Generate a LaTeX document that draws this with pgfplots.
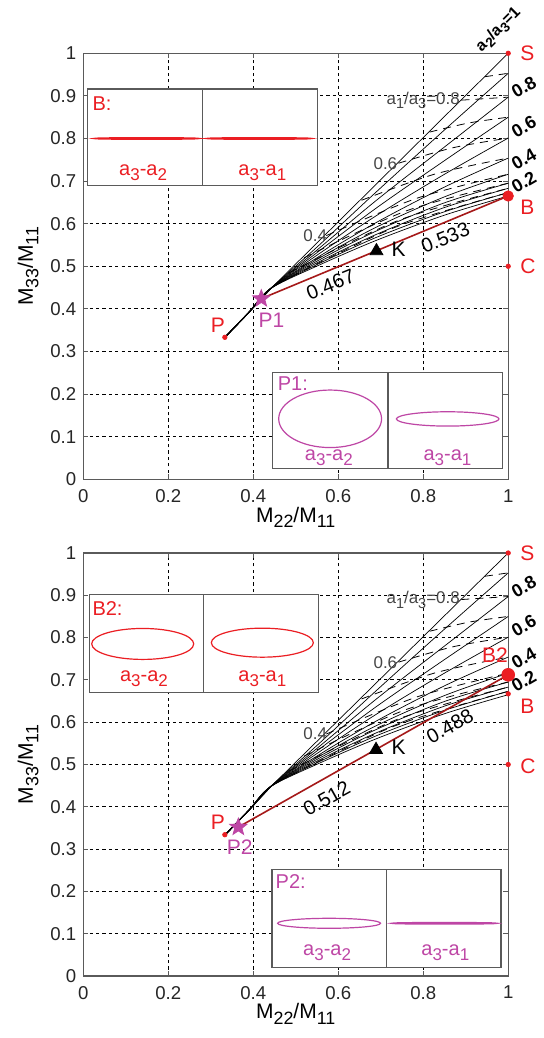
\documentclass[border=0pt]{standalone}
\usepackage{graphicx}
\usepackage{fontspec}
\setmainfont{Liberation Sans}
\usepackage{pgfplots}
\pgfplotsset{compat=1.18}

\definecolor{mred}{RGB}{235,30,35}
\definecolor{lred}{RGB}{165,25,25}
\definecolor{mag}{RGB}{190,70,165}
\definecolor{axgray}{RGB}{90,90,90}
\definecolor{lblgray}{RGB}{70,70,70}

% large, low subscripts as in the original figure
\newcommand\sub[1]{\raisebox{-0.5ex}{\scalebox{0.85}{#1}}}
\newcommand\fs[1]{\fontsize{#1}{#1}\selectfont}

% filled five-point star
\pgfdeclareplotmark{fstar}{%
  \pgfpathmoveto{\pgfpointpolar{90}{\pgfplotmarksize}}%
  \pgfpathlineto{\pgfpointpolar{126}{0.42\pgfplotmarksize}}%
  \pgfpathlineto{\pgfpointpolar{162}{\pgfplotmarksize}}%
  \pgfpathlineto{\pgfpointpolar{198}{0.42\pgfplotmarksize}}%
  \pgfpathlineto{\pgfpointpolar{234}{\pgfplotmarksize}}%
  \pgfpathlineto{\pgfpointpolar{270}{0.42\pgfplotmarksize}}%
  \pgfpathlineto{\pgfpointpolar{306}{\pgfplotmarksize}}%
  \pgfpathlineto{\pgfpointpolar{342}{0.42\pgfplotmarksize}}%
  \pgfpathlineto{\pgfpointpolar{18}{\pgfplotmarksize}}%
  \pgfpathlineto{\pgfpointpolar{54}{0.42\pgfplotmarksize}}%
  \pgfpathclose\pgfusepathqfillstroke}

\pgfplotsset{
  myax/.style={
    scale only axis, width=212.5pt,
    xmin=0, xmax=1, ymin=0, ymax=1,
    anchor=south west, clip=false,
    xtick={0,0.2,0.4,0.6,0.8,1},
    ytick={0,0.1,0.2,0.3,0.4,0.5,0.6,0.7,0.8,0.9,1},
    tick align=inside, major tick length=2.5pt,
    grid=major,
    major grid style={black, line width=0.4pt, dash pattern=on 1.6pt off 1.6pt},
    axis line style={axgray, line width=0.7pt},
    tick style={axgray, line width=0.5pt},
    tick label style={font=\fs{9.3}, text=black!85},
    /pgf/number format/assume math mode=true,
    xticklabel style={yshift=-1.5pt},
    xlabel={M\sub{22}/M\sub{11}},
    ylabel={M\sub{33}/M\sub{11}},
    xlabel style={font=\fs{10.5}, at={(axis description cs:0.5,-0.064)}, anchor=north, inner sep=0pt},
    ylabel style={font=\fs{10.5}, at={(axis description cs:-0.104,0.5)}, anchor=south, inner sep=0pt},
  },
  fanline/.style={black, line width=0.35pt, smooth, no markers},
  fandash/.style={black, line width=0.4pt, smooth, no markers, dash pattern=on 4pt off 3pt},
}

% a2/a3 = const (solid) and a1/a3 = const (dashed) families
\newcommand\fanlines{%
  \addplot[black, line width=0.6pt, no markers] coordinates {(0.3333,0.3333) (0.39,0.392) (0.44,0.447)};
  \addplot[fanline, sharp plot] coordinates {(0.3333,0.3333) (0.39,0.392) (0.44,0.446) (1,1)};
  \addplot[fanline] coordinates {(0.3333,0.3333) (0.39,0.392) (0.44,0.447) (0.55,0.545) (0.69,0.675) (0.85,0.820) (1,0.953)};
  \addplot[fanline] coordinates {(0.3333,0.3333) (0.39,0.392) (0.44,0.447) (0.55,0.538) (0.69,0.655) (0.85,0.780) (1,0.897)};
  \addplot[fanline] coordinates {(0.3333,0.3333) (0.39,0.392) (0.44,0.447) (0.55,0.532) (0.69,0.637) (0.85,0.748) (1,0.850)};
  \addplot[fanline] coordinates {(0.3333,0.3333) (0.39,0.392) (0.44,0.447) (0.55,0.526) (0.69,0.619) (0.85,0.716) (1,0.801)};
  \addplot[fanline] coordinates {(0.3333,0.3333) (0.39,0.392) (0.44,0.447) (0.55,0.520) (0.69,0.603) (0.85,0.686) (1,0.754)};
  \addplot[fanline] coordinates {(0.3333,0.3333) (0.39,0.392) (0.44,0.447) (0.55,0.516) (0.69,0.592) (0.85,0.663) (1,0.716)};
  \addplot[fanline] coordinates {(0.3333,0.3333) (0.39,0.392) (0.44,0.447) (0.55,0.512) (0.69,0.583) (0.85,0.649) (1,0.695)};
  \addplot[fanline] coordinates {(0.3333,0.3333) (0.39,0.392) (0.44,0.447) (0.55,0.508) (0.69,0.575) (0.85,0.638) (1,0.683)};
  \addplot[fanline] coordinates {(0.3333,0.3333) (0.39,0.392) (0.44,0.447) (0.55,0.504) (0.69,0.568) (0.85,0.628) (1,0.673)};
  \addplot[fanline] coordinates {(0.3333,0.3333) (0.39,0.392) (0.44,0.447) (0.55,0.5005) (0.69,0.561) (0.85,0.620) (1,0.665)};
  \addplot[fandash] coordinates {(0.945,0.945) (1,0.953)};
  \addplot[fandash] coordinates {(0.89,0.89) (1,0.897)};
  \addplot[fandash] coordinates {(0.815,0.815) (0.9075,0.8365) (1,0.850)};
  \addplot[fandash] coordinates {(0.742,0.742) (0.871,0.7785) (1,0.801)};
  \addplot[fandash] coordinates {(0.655,0.655) (0.8275,0.7165) (1,0.754)};
  \addplot[fandash] coordinates {(0.572,0.572) (0.786,0.660) (1,0.716)};
  \addplot[fandash] coordinates {(0.52,0.52) (0.76,0.630) (1,0.695)};
  \addplot[fandash] coordinates {(0.485,0.485) (0.7425,0.608) (1,0.683)};
  \addplot[fandash] coordinates {(0.46,0.46) (0.73,0.590) (1,0.673)};
  \node[lblgray, font=\fs{8.5}] at (axis cs:0.80,0.889) {a\sub{1}/a\sub{3}=0.8};
  \node[lblgray, font=\fs{8.5}] at (axis cs:0.711,0.740) {0.6};
  \node[lblgray, font=\fs{8.5}] at (axis cs:0.546,0.573) {0.4};
  \node[rotate=30, font=\bfseries\fs{9}] at (axis cs:1.037,0.920) {0.8};
  \node[rotate=30, font=\bfseries\fs{9}] at (axis cs:1.037,0.828) {0.6};
  \node[rotate=30, font=\bfseries\fs{9}] at (axis cs:1.037,0.752) {0.4};
  \node[rotate=30, font=\bfseries\fs{9}] at (axis cs:1.037,0.697) {0.2};
}

\begin{document}
\begin{tikzpicture}
\useasboundingbox (0,0) rectangle (272pt,519pt);

% ---------------- top panel ----------------
\begin{axis}[myax, height=213pt, at={(41.6pt,279.35pt)}]
\fanlines
\addplot[lred, line width=0.8pt] coordinates {(0.419,0.424) (1,0.665)};
\addplot[only marks, mark=*, mark size=1.1pt, mred] coordinates {(1,1) (1,0.5) (0.3333,0.3333)};
\addplot[only marks, mark=*, mark size=2.6pt, mred] coordinates {(1,0.665)};
\addplot[only marks, mark=triangle*, mark size=3.7pt, black] coordinates {(0.69,0.536)};
\addplot[only marks, mark=fstar, mark size=4.5pt, mag] coordinates {(0.419,0.424)};

\node[rotate=45, font=\bfseries\fs{8}] at (axis cs:0.978,1.055) {a\sub{2}/a\sub{3}=1};
\node[mred, anchor=west, font=\fs{10.5}] at (axis cs:1.012,1) {S};
\node[mred, anchor=west, font=\fs{10.5}] at (axis cs:1.012,0.638) {B};
\node[mred, anchor=west, font=\fs{10.5}] at (axis cs:1.012,0.5) {C};
\node[mred, font=\fs{10.5}] at (axis cs:0.317,0.361) {P};
\node[mag, font=\fs{10.5}] at (axis cs:0.443,0.373) {P1};
\node[font=\fs{10.5}] at (axis cs:0.742,0.539) {K};
\node[rotate=22, font=\fs{10}] at (axis cs:0.582,0.457) {0.467};
\node[rotate=22, font=\fs{10}] at (axis cs:0.852,0.567) {0.533};

% inset B
\draw[axgray, line width=0.6pt, fill=white] (axis cs:0.0105,0.689) rectangle (axis cs:0.551,0.916);
\draw[axgray, line width=0.6pt] (axis cs:0.28,0.689) -- (axis cs:0.28,0.916);
\node[mred, anchor=north west, inner sep=0pt, font=\fs{10}] at (axis cs:0.021,0.899) {B:};
\draw[mred, line width=0.8pt] (axis cs:0.149,0.8) ellipse [x radius=0.121, y radius=0.0015];
\draw[mred, line width=0.8pt] (axis cs:0.414,0.8) ellipse [x radius=0.121, y radius=0.0015];
\node[mred, font=\fs{10}] at (axis cs:0.141,0.719) {a\sub{3}-a\sub{2}};
\node[mred, font=\fs{10}] at (axis cs:0.4215,0.719) {a\sub{3}-a\sub{1}};

% inset P1
\draw[axgray, line width=0.6pt, fill=white] (axis cs:0.446,0.025) rectangle (axis cs:0.986,0.251);
\draw[axgray, line width=0.6pt] (axis cs:0.717,0.025) -- (axis cs:0.717,0.251);
\node[mag, anchor=north west, inner sep=0pt, font=\fs{10}] at (axis cs:0.457,0.242) {P1:};
\draw[mag, line width=0.6pt] (axis cs:0.581,0.142) ellipse [x radius=0.121, y radius=0.0675];
\draw[mag, line width=0.6pt] (axis cs:0.8576,0.1417) ellipse [x radius=0.1206, y radius=0.0168];
\node[mag, font=\fs{10}] at (axis cs:0.578,0.051) {a\sub{3}-a\sub{2}};
\node[mag, font=\fs{10}] at (axis cs:0.857,0.051) {a\sub{3}-a\sub{1}};
\end{axis}

% ---------------- bottom panel ----------------
\begin{axis}[myax, height=211.5pt, at={(41.6pt,31pt)}]
\fanlines
\addplot[lred, line width=0.8pt] coordinates {(0.365,0.352) (1,0.712)};
\addplot[only marks, mark=*, mark size=1.1pt, mred] coordinates {(1,1) (1,0.667) (1,0.5) (0.3333,0.334)};
\addplot[only marks, mark=*, mark size=3.2pt, mred] coordinates {(1,0.712)};
\addplot[only marks, mark=triangle*, mark size=3.7pt, black] coordinates {(0.689,0.535)};
\addplot[only marks, mark=fstar, mark size=4.5pt, mag] coordinates {(0.365,0.352)};

\node[mred, anchor=west, font=\fs{10.5}] at (axis cs:1.012,1) {S};
\node[mred, anchor=west, font=\fs{10.5}] at (axis cs:1.012,0.637) {B};
\node[mred, anchor=west, font=\fs{10.5}] at (axis cs:1.012,0.496) {C};
\node[mred, font=\fs{10.5}] at (axis cs:0.969,0.759) {B2};
\node[mred, font=\fs{10.5}] at (axis cs:0.317,0.363) {P};
\node[mag, font=\fs{10.5}] at (axis cs:0.368,0.304) {P2};
\node[font=\fs{10.5}] at (axis cs:0.742,0.541) {K};
\node[rotate=29, font=\fs{10}] at (axis cs:0.573,0.42) {0.512};
\node[rotate=29, font=\fs{10}] at (axis cs:0.863,0.591) {0.488};

% inset B2
\draw[axgray, line width=0.6pt, fill=white] (axis cs:0.014,0.671) rectangle (axis cs:0.553,0.901);
\draw[axgray, line width=0.6pt] (axis cs:0.283,0.671) -- (axis cs:0.283,0.901);
\node[mred, anchor=north west, inner sep=0pt, font=\fs{10}] at (axis cs:0.021,0.886) {B2:};
\draw[mred, line width=0.6pt] (axis cs:0.140,0.785) ellipse [x radius=0.12, y radius=0.0366];
\draw[mred, line width=0.6pt] (axis cs:0.4215,0.788) ellipse [x radius=0.12, y radius=0.0343];
\node[mred, font=\fs{10}] at (axis cs:0.143,0.702) {a\sub{3}-a\sub{2}};
\node[mred, font=\fs{10}] at (axis cs:0.4215,0.702) {a\sub{3}-a\sub{1}};

% inset P2
\draw[axgray, line width=0.6pt, fill=white] (axis cs:0.444,0.0206) rectangle (axis cs:0.983,0.252);
\draw[axgray, line width=0.6pt] (axis cs:0.7135,0.0206) -- (axis cs:0.7135,0.252);
\node[mag, anchor=north west, inner sep=0pt, font=\fs{10}] at (axis cs:0.452,0.241) {P2:};
\draw[mag, line width=0.6pt] (axis cs:0.5785,0.1246) ellipse [x radius=0.121, y radius=0.0118];
\draw[mag, line width=0.8pt] (axis cs:0.850,0.1246) ellipse [x radius=0.121, y radius=0.0015];
\node[mag, font=\fs{10}] at (axis cs:0.574,0.0557) {a\sub{3}-a\sub{2}};
\node[mag, font=\fs{10}] at (axis cs:0.852,0.0557) {a\sub{3}-a\sub{1}};
\end{axis}
\end{tikzpicture}
\end{document}
